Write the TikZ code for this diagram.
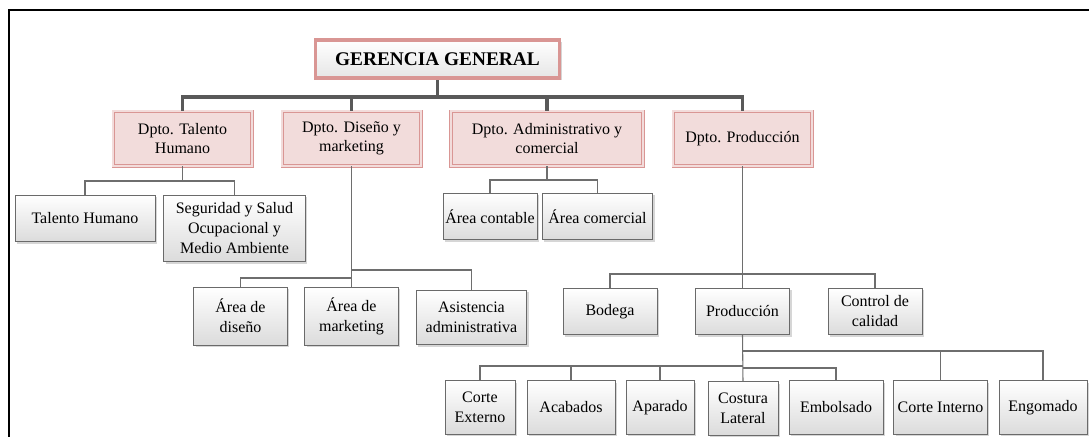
\documentclass[tikz,border=0pt]{standalone}
\usepackage{fontspec}
\setmainfont{Liberation Serif}
\usetikzlibrary{positioning,shadows}

\definecolor{pinkline}{HTML}{D99694}
\definecolor{pinkfill}{HTML}{F2DCDB}
\definecolor{busgray}{HTML}{595959}
\definecolor{linkgray}{HTML}{6E6E6E}
\definecolor{boxline}{HTML}{6A6A6A}

\begin{document}
\begin{tikzpicture}[
    x=0.75pt, y=-0.75pt,
    box/.style={
        rectangle,
        draw=boxline,
        line width=0.6pt,
        top color=white,
        bottom color=black!14,
        align=center,
        inner sep=1pt,
        minimum height=35pt,
        font=\fontsize{12}{15}\selectfont,
        drop shadow={shadow xshift=1.5pt, shadow yshift=-1.5pt,
                     fill=black!16, opacity=1}
    },
    dept/.style={
        box,
        draw=pinkline,
        double=pinkfill,
        double distance=1.4pt,
        line width=0.55pt,
        top color=pinkfill,
        bottom color=pinkfill,
        minimum width=104pt,
        minimum height=41pt,
        font=\fontsize{12}{14}\selectfont
    },
    boss/.style={
        box,
        draw=pinkline,
        line width=2.8pt,
        bottom color=black!10,
        minimum width=183pt,
        minimum height=29pt,
        font=\fontsize{14.5}{16}\selectfont\bfseries
    },
    bus/.style={draw=busgray, line width=2.4pt},
    link/.style={draw=linkgray, line width=0.8pt},
    frame/.style={draw=black, line width=0.8pt}
]

\def\colS{70.5pt}
\def\rowL{40pt}

\useasboundingbox (0,0) rectangle (1089,437);
\draw[frame] (1089,10) -- (9,10) -- (9,437);

%% ===== TOP =====
\node[boss] (ger) at (437.5,59) {GERENCIA GENERAL};

%% ===== DEPARTMENTS =====
\node[dept] (dtal) at (182.5,138.5) {Dpto. Talento\\Humano};
\node[dept] (ddis) at (351.5,138.5) {Dpto. Diseño y\\marketing};
\node[dept, minimum width=144pt] (dadm) at (547,138.5)
  {Dpto. Administrativo y\\comercial};
\node[dept] (dpro) at (742.5,138.5) {Dpto. Producción};

\coordinate (busA) at (0,97);
\foreach \d in {dtal,ddis,dadm,dpro}
  \draw[bus] (ger.south) -- (ger.south |- busA) -| (\d.north);

%% ===== TALENTO HUMANO =====
\node[box, minimum width=105pt] (tal) at (85,218.5) {Talento Humano};
\node[box, minimum width=106pt, minimum height=50pt] (seg) at (234.5,228.5)
  {Seguridad y Salud\\Ocupacional y\\Medio Ambiente};

\coordinate (busT) at (0,181);
\draw[link] (dtal.south) -- (dtal.south |- busT) -| (tal.north);
\draw[link] (dtal.south |- busT) -| (seg.north);

%% ===== DISEÑO Y MARKETING =====
\node[box, minimum width=70pt, minimum height=43.5pt] (adis) at (240.5,316)
  {Área de\\diseño};
\node[box, minimum width=70pt, minimum height=43.5pt] (amar) at (351.5,316)
  {Área de\\marketing};
\node[box, minimum width=83pt, minimum height=41pt] (asis) at (471.5,317.5)
  {Asistencia\\administrativa};

\coordinate (busDr) at (0,270);
\coordinate (busDl) at (0,278);
\draw[link] (ddis.south) -- (amar.north);
\draw[link] (ddis.south |- busDr) -| (asis.north);
\draw[link] (ddis.south |- busDl) -| (adis.north);

%% ===== ADMINISTRATIVO Y COMERCIAL =====
\node[box, minimum width=\colS] (acon) at (490,216.5) {Área contable};
\node[box, minimum width=83pt] (acom) at (597.5,216.5) {Área comercial};

\coordinate (busC) at (0,180);
\draw[link] (dadm.south) -- (dadm.south |- busC) -| (acon.north);
\draw[link] (dadm.south |- busC) -| (acom.north);

%% ===== PRODUCCIÓN =====
\node[box, minimum width=\colS] (bod) at (610,311.5) {Bodega};
\node[box, minimum width=\colS] (prod) at (742.5,311.5) {Producción};
\node[box, minimum width=\colS] (ctrl) at (875,311.5) {Control de\\calidad};

\coordinate (busP) at (0,274);
\draw[link] (dpro.south) -- (prod.north);
\draw[link] (dpro.south |- busP) -| (bod.north);
\draw[link] (dpro.south |- busP) -| (ctrl.north);

%% ===== LÍNEA DE PRODUCCIÓN =====
\node[box, minimum width=52.5pt, minimum height=\rowL] (cext) at (480,407.5)
  {Corte\\Externo};
\node[box, minimum width=66pt, minimum height=\rowL] (acab) at (571,407.5)
  {Acabados};
\node[box, minimum width=51pt, minimum height=\rowL] (apar) at (660,407.5)
  {Aparado};
\node[box, minimum width=52.5pt, minimum height=\rowL] (cost) at (743,408.5)
  {Costura\\Lateral};
\node[box, minimum width=\colS, minimum height=\rowL] (embo) at (836,407.5)
  {Embolsado};
\node[box, minimum width=70pt, minimum height=\rowL] (cint) at (940.5,407.5)
  {Corte Interno};
\node[box, minimum width=66pt, minimum height=\rowL] (engo) at (1043,407.5)
  {Engomado};

\coordinate (busPu) at (0,351);
\coordinate (busPl) at (0,366);
\coordinate (busPr) at (0,368);
\draw[link] (prod.south) -- (cost.north);
\draw[link] (prod.south |- busPu) -| (cint.north);
\draw[link] (prod.south |- busPu) -| (engo.north);
\draw[link] (prod.south |- busPl) -| (cext.north);
\draw[link] (prod.south |- busPl) -| (acab.north);
\draw[link] (prod.south |- busPl) -| (apar.north);
\draw[link] (prod.south |- busPr) -| (embo.north);

\end{tikzpicture}
\end{document}
